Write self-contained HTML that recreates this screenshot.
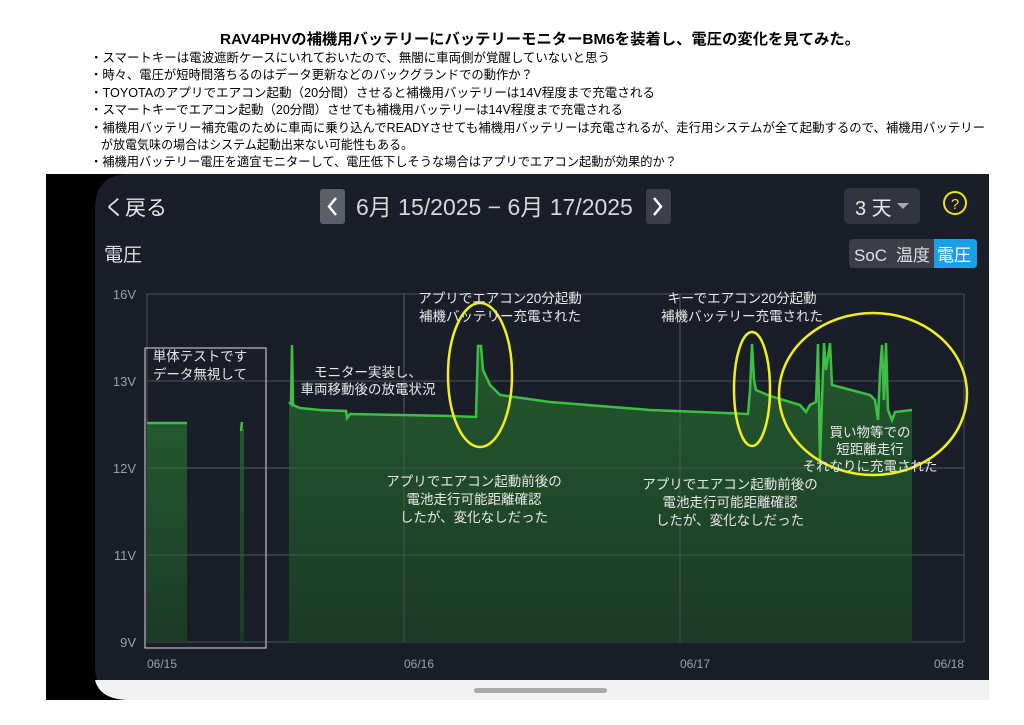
<!DOCTYPE html>
<html><head><meta charset="utf-8"><style>
body{margin:0;background:#fff;width:1024px;height:725px;overflow:hidden}
svg{display:block}
text{font-family:"Liberation Sans","Noto Sans CJK JP",sans-serif}
</style></head><body>
<svg width="1024" height="725" viewBox="0 0 1024 725">
<rect width="1024" height="725" fill="#fff"/>
<text x="540" y="44" text-anchor="middle" font-size="15" font-weight="bold" fill="#000" textLength="640" lengthAdjust="spacingAndGlyphs">RAV4PHVの補機用バッテリーにバッテリーモニターBM6を装着し、電圧の変化を見てみた。</text>
<g font-size="12.5" fill="#000">
<text x="90" y="62" textLength="520" lengthAdjust="spacingAndGlyphs">・スマートキーは電波遮断ケースにいれておいたので、無闇に車両側が覚醒していないと思う</text>
<text x="90" y="79" textLength="443" lengthAdjust="spacingAndGlyphs">・時々、電圧が短時間落ちるのはデータ更新などのバックグランドでの動作か？</text>
<text x="90" y="97" textLength="565" lengthAdjust="spacingAndGlyphs">・TOYOTAのアプリでエアコン起動（20分間）させると補機用バッテリーは14V程度まで充電される</text>
<text x="90" y="114" textLength="533" lengthAdjust="spacingAndGlyphs">・スマートキーでエアコン起動（20分間）させても補機用バッテリーは14V程度まで充電される</text>
<text x="90" y="132" textLength="895" lengthAdjust="spacingAndGlyphs">・補機用バッテリー補充電のために車両に乗り込んでREADYさせても補機用バッテリーは充電されるが、走行用システムが全て起動するので、補機用バッテリー</text>
<text x="101" y="149" textLength="312" lengthAdjust="spacingAndGlyphs">が放電気味の場合はシステム起動出来ない可能性もある。</text>
<text x="90" y="166" textLength="587" lengthAdjust="spacingAndGlyphs">・補機用バッテリー電圧を適宜モニターして、電圧低下しそうな場合はアプリでエアコン起動が効果的か？</text>
</g>
<rect x="46" y="174" width="943" height="526" fill="#000"/>
<path d="M130 174 H989 V700 H130 Q95 700 95 665 V209 Q95 174 130 174Z" fill="#1a1e28"/>
<path d="M130 680 H989 V700 H130 Q100 700 95 680Z" fill="#f2f2f2"/>
<rect x="474" y="688" width="133" height="5" rx="2.5" fill="#aaa"/>
<text x="104" y="215" font-size="21" fill="#e8e8e8">く戻る</text>
<rect x="320" y="189" width="25" height="35" rx="3" fill="#5a5f68"/>
<path d="M336 198 L329 206.5 L336 215" stroke="#fff" stroke-width="2.5" fill="none"/>
<text x="356" y="215" font-size="23" fill="#d8d8d8">6月 15/2025  −  6月 17/2025</text>
<rect x="646" y="189" width="25" height="35" rx="3" fill="#3a3f48"/>
<path d="M654 198 L661 206.5 L654 215" stroke="#fff" stroke-width="2.5" fill="none"/>
<rect x="844" y="188" width="76" height="36" rx="5" fill="#30353f"/>
<text x="855" y="215" font-size="20" fill="#e8e8e8">3 天</text>
<path d="M897 203 L909 203 L903 209Z" fill="#aaa"/>
<circle cx="955" cy="203" r="11" fill="none" stroke="#f0e020" stroke-width="2"/>
<text x="955" y="209" font-size="15" fill="#f0e020" text-anchor="middle">?</text>
<text x="104" y="261" font-size="19" fill="#e0e0e0">電圧</text>
<rect x="849" y="239" width="128" height="29" rx="4" fill="#3a3f48"/>
<path d="M934 239 H973 Q977 239 977 243 V264 Q977 268 973 268 H934Z" fill="#1aa0e8"/>
<text x="854" y="261" font-size="17" fill="#e0e0e0">SoC</text>
<text x="896" y="261" font-size="17" fill="#e0e0e0">温度</text>
<text x="937" y="261" font-size="17" fill="#fff">電圧</text>
<g font-size="13" fill="#9aa0a8" text-anchor="end">
<text x="136" y="299">16V</text><text x="136" y="386">13V</text><text x="136" y="473">12V</text><text x="136" y="560">11V</text><text x="136" y="647">9V</text>
</g>
<g font-size="12" fill="#9aa0a8">
<text x="147" y="668">06/15</text><text x="404" y="668">06/16</text><text x="680" y="668">06/17</text><text x="934" y="668">06/18</text>
</g>
<g stroke="#4a5058" stroke-width="1">
<path d="M147 294 H964 M147 381 H964 M147 468 H964 M147 555 H964 M147 642 H964 M147 294 V642 M404 294 V642 M680 294 V642 M964 294 V642"/>
</g>
<defs><linearGradient id="g" x1="0" y1="0" x2="0" y2="1"><stop offset="0" stop-color="#24592e"/><stop offset="1" stop-color="#1c3a27"/></linearGradient></defs>
<path d="M147 642 V423 L187 423 V642Z" fill="url(#g)"/>
<path d="M240 642 V428 L242 422 L244 430 V642Z" fill="url(#g)"/>
<path d="M289 642 V402 L291 404 L292 345 L293 405 L300 408 L320 410 L346 411 L347 418 L350 414 L400 415 L450 416 L476 417 L478 346 L481 346 L483 370 L490 385 L500 395 L550 402 L600 406 L650 410 L700 412 L748 414 L750 390 L752 344 L754 380 L756 390 L770 396 L800 405 L806 412 L810 405 L816 402 L818 344 L820 460 L822 400 L824 343 L826 370 L830 343 L832 385 L870 395 L875 400 L878 420 L880 372 L882 345 L884 400 L886 343 L888 410 L892 420 L895 412 L912 410 V642Z" fill="url(#g)"/>
<g stroke="#5a6a60" stroke-width="1" opacity="0.6">
<path d="M147 468 H964 M147 555 H964 M404 294 V642 M680 294 V642"/>
</g>
<path d="M147 423 L187 423 M241 431 L242 422 M289 402 L291 404 L292 345 L293 405 L300 408 L320 410 L346 411 L347 418 L350 414 L400 415 L450 416 L476 417 L478 346 L481 346 L483 370 L490 385 L500 395 L550 402 L600 406 L650 410 L700 412 L748 414 L750 390 L752 344 L754 380 L756 390 L770 396 L800 405 L806 412 L810 405 L816 402 L818 344 L820 460 L822 400 L824 343 L826 370 L830 343 L832 385 L870 395 L875 400 L878 420 L880 372 L882 345 L884 400 L886 343 L888 410 L892 420 L895 412 L912 410" stroke="#3cc043" stroke-width="2.5" fill="none"/>
<rect x="145" y="348" width="121" height="300" fill="none" stroke="#ddd" stroke-width="1"/>
<g fill="none" stroke="#f0f020" stroke-width="2.5">
<ellipse cx="480" cy="375" rx="32" ry="72"/>
<ellipse cx="752" cy="389" rx="18" ry="57"/>
<ellipse cx="873" cy="394" rx="94" ry="81"/>
</g>
<g font-size="13.5" fill="#e8e8e8" text-anchor="middle">
<text x="200" y="361">単体テストです</text><text x="200" y="379">データ無視して</text>
<text x="368" y="377">モニター実装し、</text><text x="368" y="394">車両移動後の放電状況</text>
<text x="500" y="303">アプリでエアコン20分起動</text><text x="500" y="321">補機バッテリー充電された</text>
<text x="742" y="303">キーでエアコン20分起動</text><text x="742" y="321">補機バッテリー充電された</text>
<text x="870" y="437">買い物等での</text><text x="870" y="454">短距離走行</text><text x="870" y="471">それなりに充電された</text>
<text x="474" y="486">アプリでエアコン起動前後の</text><text x="474" y="504">電池走行可能距離確認</text><text x="474" y="522">したが、変化なしだった</text>
<text x="730" y="489">アプリでエアコン起動前後の</text><text x="730" y="507">電池走行可能距離確認</text><text x="730" y="525">したが、変化なしだった</text>
</g>
</svg>
</body></html>
